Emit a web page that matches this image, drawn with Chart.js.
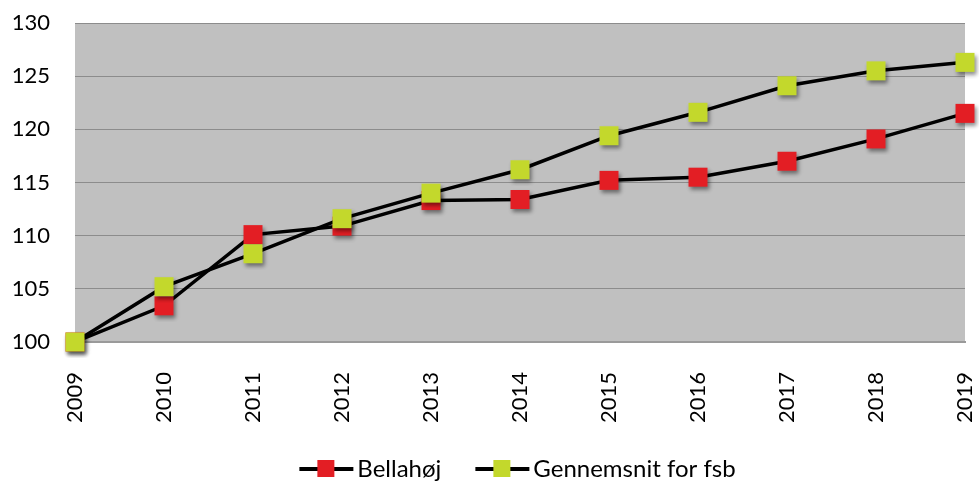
<!DOCTYPE html>
<html lang="da">
<head>
  <meta charset="UTF-8" />
  <title>Bellahøj vs. gennemsnit for fsb</title>
  <style>
    html, body { margin: 0; padding: 0; background: #fff; overflow: hidden; }
    #wrap { width: 979px; height: 481px; position: relative; }
  </style>
</head>
<body>
  <div id="wrap"><canvas id="chart"></canvas></div>

  <script src="https://cdn.jsdelivr.net/npm/chart.js"></script>
  <script>
    const years = ["2009", "2010", "2011", "2012", "2013", "2014", "2015", "2016", "2017", "2018", "2019"];
    const bellahoej = [100, 103.4, 110.1, 110.9, 113.3, 113.4, 115.2, 115.5, 117.0, 119.1, 121.5];
    const fsbAverage = [100, 105.2, 108.3, 111.6, 114.0, 116.2, 119.4, 121.6, 124.1, 125.5, 126.3];
    const yMin = 100, yMax = 130, yStep = 5;

    const RED = "#e31e24";
    const GREEN = "#c3d82c";
    const FONT = "Lato, 'Liberation Sans', sans-serif";

    // square marker with a soft drop shadow, drawn once into a small canvas
    function makeMarker(color) {
      const c = document.createElement("canvas");
      c.width = 33; c.height = 33;
      const g = c.getContext("2d");
      g.shadowColor = "rgba(0,0,0,0.45)";
      g.shadowBlur = 4;
      g.shadowOffsetX = 2;
      g.shadowOffsetY = 3;
      g.fillStyle = color;
      g.fillRect(7, 7, 19, 19);
      return c;
    }

    // legend symbol: black line with a coloured square in the middle.
    // canvas is wider than the symbol so it sits flush with the box start
    function makeLegendSymbol(color) {
      const c = document.createElement("canvas");
      c.width = 108; c.height = 18;
      const g = c.getContext("2d");
      g.fillStyle = "#000";
      g.fillRect(31, 7, 54, 4);
      g.fillStyle = color;
      g.fillRect(49, 0, 17, 17);
      return c;
    }

    const legendSymbols = [makeLegendSymbol(RED), makeLegendSymbol(GREEN)];

    const plotBg = {
      id: "plotBg",
      beforeDraw(chart) {
        const a = chart.chartArea, ctx = chart.ctx;
        ctx.save();
        ctx.fillStyle = "#c0c0c0";
        ctx.fillRect(a.left, a.top, a.right - a.left, a.bottom - a.top);
        ctx.restore();
      }
    };

    // legend in the original sits a bit right of centre
    const legendShift = {
      id: "legendShift",
      afterLayout(chart) {
        chart.legend.left += 35;
        chart.legend.right += 35;
      }
    };

    new Chart(document.getElementById("chart"), {
      type: "line",
      data: {
        labels: years,
        datasets: [
          {
            label: "Bellahøj",
            data: bellahoej,
            borderColor: "#000",
            borderWidth: 3.5,
            pointStyle: makeMarker(RED),
            pointRadius: 10,
            pointHoverRadius: 10,
            tension: 0,
            clip: false,
            order: 1
          },
          {
            label: "Gennemsnit for fsb",
            data: fsbAverage,
            borderColor: "#000",
            borderWidth: 3.5,
            pointStyle: makeMarker(GREEN),
            pointRadius: 10,
            pointHoverRadius: 10,
            tension: 0,
            clip: false,
            order: 0
          }
        ]
      },
      options: {
        responsive: true,
        maintainAspectRatio: false,
        animation: false,
        layout: { padding: { top: 23, right: 14, left: 0, bottom: -10 } },
        scales: {
          x: {
            grid: { display: false, drawTicks: false },
            border: { display: true, color: "#9a9a9a", width: 2 },
            ticks: {
              color: "#000",
              font: { family: FONT, size: 22 },
              minRotation: 90,
              maxRotation: 90,
              padding: 30,
              autoSkip: false
            },
            afterFit(scale) {
              scale.paddingLeft = 0;
              scale.paddingRight = 0;
              scale.height -= 30;
            }
          },
          y: {
            min: yMin,
            max: yMax,
            grid: { color: "#8c8c8c", lineWidth: 1, drawTicks: false },
            border: { display: false },
            ticks: {
              stepSize: yStep,
              color: "#000",
              font: { family: FONT, size: 22 },
              padding: 25
            },
            afterFit(scale) {
              scale.width = 75;
              scale.paddingTop = 0;
              scale.paddingBottom = 0;
            }
          }
        },
        plugins: {
          tooltip: { enabled: false },
          legend: {
            position: "bottom",
            labels: {
              color: "#000",
              font: { family: FONT, size: 24 },
              usePointStyle: true,
              pointStyleWidth: 46,
              padding: 34,
              sort: (a, b) => a.datasetIndex - b.datasetIndex,
              generateLabels(chart) {
                const items = Chart.defaults.plugins.legend.labels.generateLabels(chart);
                items.forEach(it => { it.pointStyle = legendSymbols[it.datasetIndex]; });
                return items;
              }
            }
          }
        }
      },
      plugins: [plotBg, legendShift]
    });
  </script>
</body>
</html>
